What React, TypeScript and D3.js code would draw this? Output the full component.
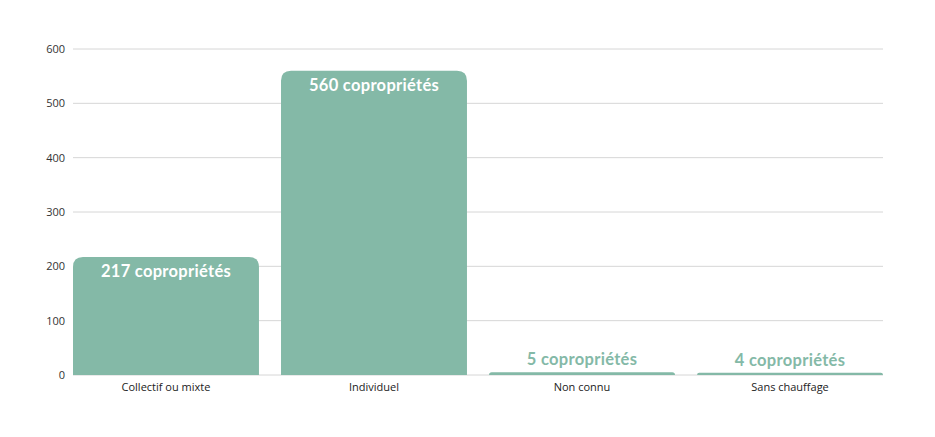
import * as React from "react";
import * as d3 from "d3";

const categories = ["Collectif ou mixte", "Individuel", "Non connu", "Sans chauffage"];
const values = [217, 560, 5, 4];
const yTicks = [0, 100, 200, 300, 400, 500, 600];
const unit = "copropriétés";

const W = 935;
const H = 437;
const margin = { top: 49, right: 52, bottom: 62, left: 73 };
const barColor = "#84b9a7";

// path for a bar with rounded top corners
const barPath = (x: number, y: number, w: number, h: number, r: number) => {
  const rr = Math.min(r, h, w / 2);
  return `M${x},${y + h}V${y + rr}Q${x},${y} ${x + rr},${y}H${x + w - rr}Q${x + w},${y} ${x + w},${y + rr}V${y + h}Z`;
};

const App: React.FunctionComponent = () => {
  const innerW = W - margin.left - margin.right;
  const innerH = H - margin.top - margin.bottom;

  const x = d3
    .scaleBand<string>()
    .domain(categories)
    .range([0, innerW])
    .paddingInner(0.106)
    .paddingOuter(0);
  const y = d3.scaleLinear().domain([0, 600]).range([innerH, 0]);

  return (
    <svg width={W} height={H} style={{ position: "absolute", left: 0, top: 0, background: "#fff" }}>
      <g transform={`translate(${margin.left},${margin.top})`}>
        {yTicks.map(t => (
          <g key={t}>
            <line x1={0} x2={innerW} y1={y(t)} y2={y(t)} stroke="#d6d6d6" strokeWidth={1} />
            <text
              x={-8}
              y={y(t)}
              dy="0.35em"
              textAnchor="end"
              fontFamily="'Open Sans', sans-serif"
              fontSize={11}
              fill="#333"
            >
              {t}
            </text>
          </g>
        ))}
        {categories.map((c, i) => {
          const bx = x(c)!;
          const bw = x.bandwidth();
          const top = y(values[i]);
          const h = innerH - top;
          const inside = h > 40;
          return (
            <g key={c}>
              <path d={barPath(bx, top, bw, Math.max(h, 0), 10)} fill={barColor} />
              <text
                x={bx + bw / 2}
                y={inside ? top + 20 : top - 7}
                textAnchor="middle"
                fontFamily="Lato, 'Open Sans', sans-serif"
                fontWeight={700}
                fontSize={16.5}
                letterSpacing={0.3}
                fill={inside ? "#ffffff" : barColor}
              >
                {`${values[i]} ${unit}`}
              </text>
              <text
                x={bx + bw / 2}
                y={innerH + 16}
                textAnchor="middle"
                fontFamily="'Open Sans', sans-serif"
                fontSize={11}
                fill="#222"
              >
                {c}
              </text>
            </g>
          );
        })}
      </g>
    </svg>
  );
};

export default App;
